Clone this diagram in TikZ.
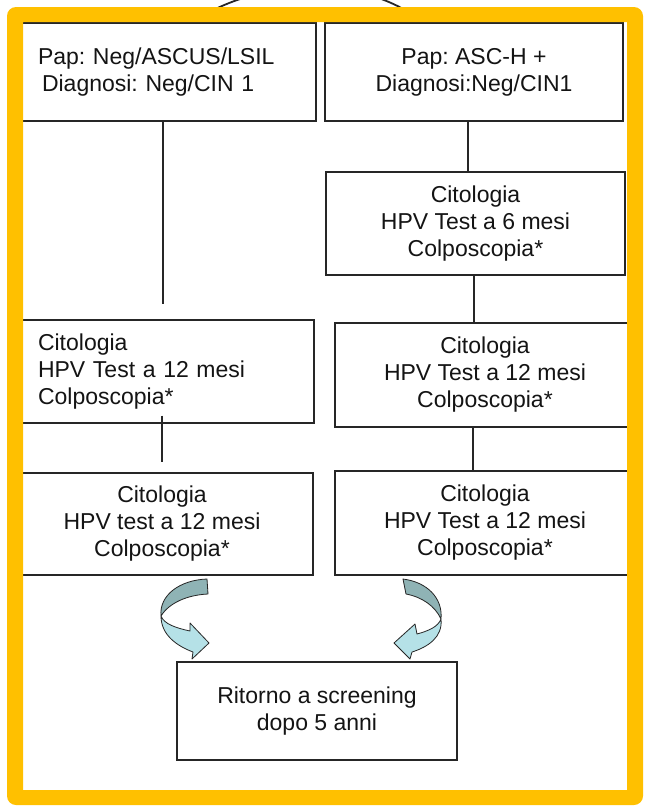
\documentclass[tikz,border=0pt]{standalone}
\usepackage{fontspec}
\setmainfont{Liberation Sans}
\usetikzlibrary{calc}
\definecolor{frameyellow}{HTML}{FFC000}
\definecolor{arrdark}{HTML}{8FB3B5}
\definecolor{arrlight}{HTML}{B5E1E7}
\definecolor{boxline}{HTML}{262626}
\newcommand{\boxfont}{\fontsize{23}{27}\selectfont}
\frenchspacing
\begin{document}
\begin{tikzpicture}[x=1pt,y=-1pt,
  flowbox/.style={draw=boxline,line width=1.4pt,fill=white,inner sep=0pt,
    align=center,font=\boxfont,text=black!92},
  leftbox/.style={flowbox,align=left,inner xsep=28pt},
  conn/.style={draw=boxline,line width=1.5pt},
  ribbon/.style={draw=black!85,line width=0.8pt,line join=round}]
\useasboundingbox (0,0) rectangle (645,807);
\clip (0,0) rectangle (645,807);
\fill[white] (0,0) rectangle (645,807);

% parts of connectors from a parent above the picture
\coordinate (pl) at (250,-4);
\coordinate (pr) at (372,-4);

% boxes
\node[leftbox,minimum width=306pt,minimum height=98pt,text width=250pt] (tl) at (163,72)
  {Pap: Neg/ASCUS/LSIL\\\hspace*{4pt}Diagnosi: Neg/CIN 1};
\node[flowbox,minimum width=298pt,minimum height=98pt] (tr) at (474,72)
  {Pap: ASC-H +\\Diagnosi:Neg/CIN1};
\node[flowbox,minimum width=299pt,minimum height=103pt] (r2) at (475.5,223.5)
  {Citologia\\HPV Test a 6 mesi\\Colposcopia*};
\node[leftbox,minimum width=304pt,minimum height=103pt,text width=248pt] (l3) at (162,371.5)
  {Citologia\\HPV Test a 12 mesi\\Colposcopia*};
\node[flowbox,minimum width=300pt,minimum height=104pt] (r3) at (485,375)
  {Citologia\\HPV Test a 12 mesi\\Colposcopia*};
\node[flowbox,minimum width=302pt,minimum height=102pt] (l4) at (162,524)
  {Citologia\\HPV test a 12 mesi\\Colposcopia*};
\node[flowbox,minimum width=300pt,minimum height=104pt] (r4) at (485,523)
  {Citologia\\HPV Test a 12 mesi\\Colposcopia*};
\node[flowbox,minimum width=280pt,minimum height=98pt] (bt) at (317,711)
  {Ritorno a screening\\dopo 5 anni};

\draw[conn,line width=1.8pt] (pl) .. controls (228,2) and (205,13) .. (193,24 |- tl.north);
\draw[conn,line width=1.8pt] (pr) .. controls (393,2) and (412,13) .. (423,24 |- tr.north);

% connectors
\draw[conn,shorten >=15pt] (tl.south) -- (tl.south |- l3.north);
\coordinate (c1) at ($(tr.south)+(-6,0)$);
\draw[conn] (c1) -- (c1 |- r2.north);
\coordinate (c2) at ($(r2.south)+(-1.5,0)$);
\draw[conn] (c2) -- (c2 |- r3.north);
\coordinate (c4) at ($(l3.south)+(0,-8)$);
\draw[conn,shorten >=10pt] (c4) -- (c4 |- l4.north);
\coordinate (c3) at ($(r3.south)+(-12,0)$);
\draw[conn] (c3) -- (c3 |- r4.north);

% curved arrows towards the last box
\filldraw[ribbon,fill=arrdark] (207,579) .. controls (180,580) and (159,595) .. (161,616)
  .. controls (169,603) and (187,595) .. (208,594) -- cycle;
\filldraw[ribbon,fill=arrlight] (161,616) .. controls (161,635) and (177,646) .. (193,652)
  -- (192,659) -- (209,643) -- (190,623) -- (190,631)
  .. controls (176,628) and (164,624) .. (161,616) -- cycle;
\filldraw[ribbon,fill=arrdark] (403,579) .. controls (427,582) and (443,598) .. (441,619)
  .. controls (435,606) and (422,597) .. (406,594) -- cycle;
\filldraw[ribbon,fill=arrlight] (441,619) .. controls (443,637) and (428,647) .. (412,652)
  -- (410,659) -- (394,643) -- (415,624) -- (417,634)
  .. controls (428,631) and (438,627) .. (441,619) -- cycle;

% yellow frame
\fill[frameyellow,even odd rule] (7,7) [rounded corners=9pt] rectangle (643,805)
  [sharp corners] (23,22) rectangle (627,790);
\end{tikzpicture}
\end{document}
